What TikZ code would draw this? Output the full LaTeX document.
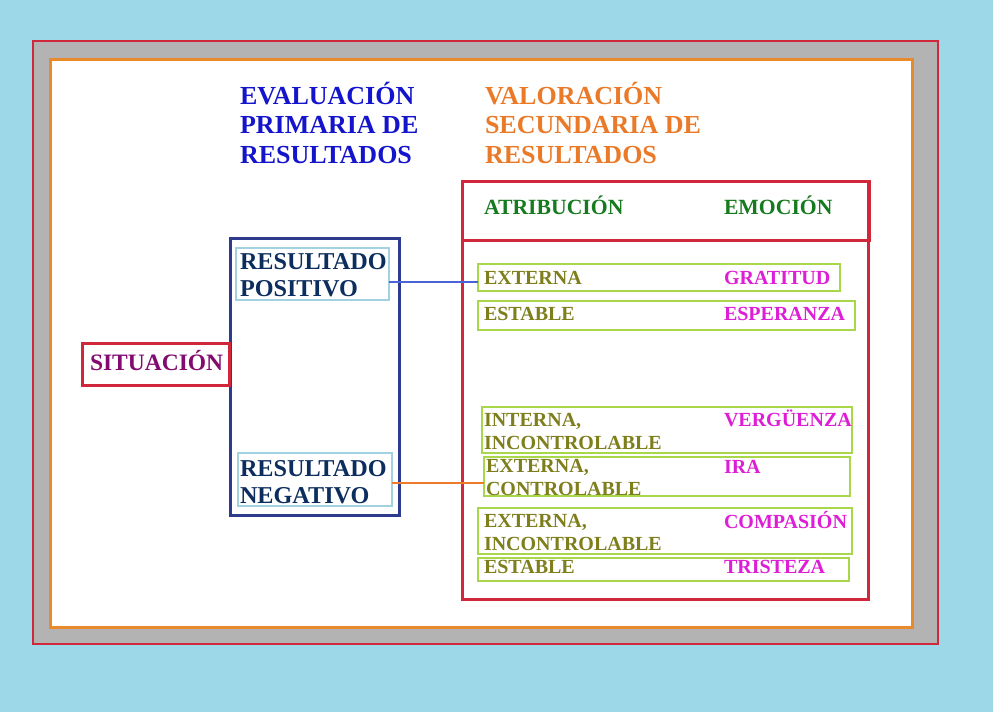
\documentclass[tikz,border=0pt]{standalone}
\usepackage{fontspec}
\setmainfont{Liberation Serif}
\definecolor{bgblue}{HTML}{9DD8E9}
\definecolor{framegray}{HTML}{B3B3B3}
\definecolor{framered}{HTML}{D0283A}
\definecolor{frameorange}{HTML}{E8892A}
\definecolor{txtblue}{HTML}{1414CC}
\definecolor{txtorange}{HTML}{EA7A28}
\definecolor{txtgreen}{HTML}{167A1E}
\definecolor{txtolive}{HTML}{7E7E1C}
\definecolor{txtmagenta}{HTML}{DE1ED6}
\definecolor{boxgreen}{HTML}{A8D84A}
\definecolor{txtnavy}{HTML}{0C2E5E}
\definecolor{boxlblue}{HTML}{A2D2E2}
\definecolor{txtpurple}{HTML}{820A70}
\definecolor{boxnavy}{HTML}{2E3A8C}
\definecolor{lineblue}{HTML}{4A64D8}
\definecolor{lineorange}{HTML}{EE7A2A}
\tikzset{
  frame/.style={draw, anchor=north west, inner sep=0pt, outer sep=0pt},
  greenbox/.style={frame, draw=boxgreen, line width=2pt},
  lbluebox/.style={frame, draw=boxlblue, line width=2pt},
  txt/.style={anchor=base west, inner sep=0pt, outer sep=0pt, align=left, font=\bfseries},
  headtxt/.style={txt, font=\bfseries\fontsize{26}{29.5}\selectfont},
  coltxt/.style={txt, text=txtgreen, font=\bfseries\fontsize{21.7}{25}\selectfont},
  restxt/.style={txt, text=txtnavy, font=\bfseries\fontsize{24.2}{26.8}\selectfont},
  attrtxt/.style={txt, text=txtolive, font=\bfseries\fontsize{20}{22.5}\selectfont},
  emotxt/.style={txt, text=txtmagenta, font=\bfseries\fontsize{20}{22.5}\selectfont},
}
\begin{document}
\begin{tikzpicture}[x=1pt,y=-1pt]
\useasboundingbox (0,0) rectangle (993,712);
\fill[bgblue] (0,0) rectangle (993,712);
% outer frames
\node[frame, fill=framegray, draw=framered, line width=2pt, minimum width=905pt, minimum height=603pt] (outer) at (33,41) {};
\node[frame, fill=white, draw=frameorange, line width=3pt, minimum width=862pt, minimum height=568pt] (inner) at (50,59) {};
% headers (base anchor = last line)
\node[headtxt, text=txtblue] (evalu) at (240,163) {EVALUACIÓN\\PRIMARIA DE\\RESULTADOS};
\node[headtxt, text=txtorange] (valor) at (485,163) {VALORACIÓN\\SECUNDARIA DE\\RESULTADOS};
% right red boxes
\node[frame, draw=framered, line width=3pt, minimum width=406pt, minimum height=418pt] (bigred) at (462,181) {};
\node[frame, draw=framered, line width=3pt, minimum width=407pt, minimum height=59pt] (headred) at (462,181) {};
\node[coltxt] (atrib) at (484,214) {ATRIBUCIÓN};
\node[coltxt] (emoc) at (724,214) {EMOCIÓN};
% left boxes
\node[frame, draw=boxnavy, line width=3pt, minimum width=169pt, minimum height=277pt] (bluebox) at (230,238) {};
\node[frame, draw=framered, line width=3pt, minimum width=147pt, minimum height=42pt] (situbox) at (82,343) {};
\node[txt, text=txtpurple, font=\bfseries\fontsize{23.5}{26}\selectfont] (situ) at (90,370) {SITUACIÓN};
\node[lbluebox, minimum width=153pt, minimum height=52pt] (posbox) at (236,248) {};
\node[lbluebox, minimum width=154pt, minimum height=53pt] (negbox) at (238,453) {};
\node[restxt] (postxt) at (240,296) {RESULTADO\\POSITIVO};
\node[restxt] (negtxt) at (240,503) {RESULTADO\\NEGATIVO};
% green boxes
\node[greenbox, minimum width=362pt, minimum height=27pt] (g1) at (478,264) {};
\node[greenbox, minimum width=377pt, minimum height=29pt] (g2) at (478,301) {};
\node[greenbox, minimum width=370pt, minimum height=46pt] (g3) at (482,407) {};
\node[greenbox, minimum width=366pt, minimum height=39pt] (g4) at (484,457) {};
\node[greenbox, minimum width=374pt, minimum height=46pt] (g5) at (478,508) {};
\node[greenbox, minimum width=371pt, minimum height=23pt] (g6) at (478,558) {};
\node[attrtxt] (a1) at (484,284) {EXTERNA};
\node[emotxt] (e1) at (724,284) {GRATITUD};
\node[attrtxt] (a2) at (484,320) {ESTABLE};
\node[emotxt] (e2) at (724,320) {ESPERANZA};
\node[attrtxt] (a3) at (484,449) {INTERNA,\\INCONTROLABLE};
\node[emotxt] (e3) at (724,426) {VERGÜENZA};
\node[attrtxt] (a4) at (486,495) {EXTERNA,\\CONTROLABLE};
\node[emotxt] (e4) at (724,473) {IRA};
\node[attrtxt] (a5) at (484,550) {EXTERNA,\\INCONTROLABLE};
\node[emotxt] (e5) at (724,528) {COMPASIÓN};
\node[attrtxt] (a6) at (484,573) {ESTABLE};
\node[emotxt] (e6) at (724,573) {TRISTEZA};
% connectors
\draw[lineblue, line width=1.5pt] (posbox.east |- 0,282) -- (g1.west |- 0,282);
\draw[lineorange, line width=1.5pt] (negbox.east |- 0,483) -- (g4.west |- 0,483);
\end{tikzpicture}
\end{document}
